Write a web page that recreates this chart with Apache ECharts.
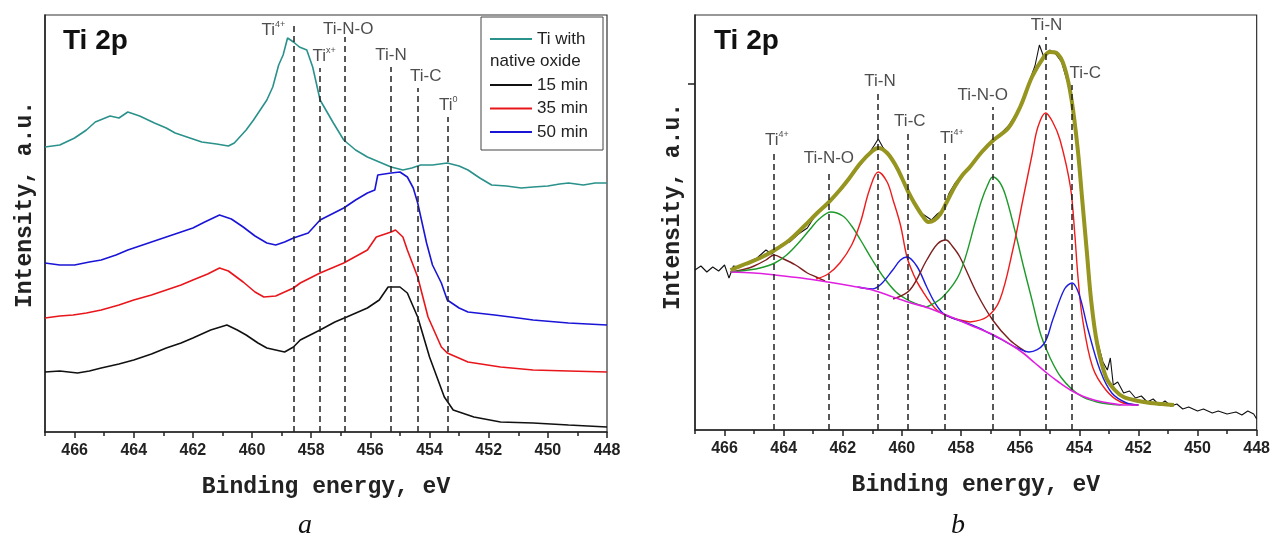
<!DOCTYPE html>
<html><head><meta charset="utf-8">
<script src="https://cdn.jsdelivr.net/npm/echarts@6/dist/echarts.min.js"></script>
<style>html,body{margin:0;padding:0;background:#fff}#c{width:1273px;height:540px}</style>
</head><body><div id="c"></div><script>
// ---------- Panel a : Ti 2p spectra (binding energy eV, intensity a.u.) ----------
const leftTealNative = [[467,285],[466.5,287],[466.0,294],[465.6,302],[465.3,310],[464.8,316],[464.5,314],[464.2,320],[463.8,316],[463.3,309],[462.9,304],[462.6,299],[462.1,294],[461.7,290],[461.2,288],[460.8,286],[460.6,289],[460.2,302],[459.95,312],[459.5,332],[459.3,345],[459.1,367],[458.95,377],[458.8,394],[458.6,390],[458.4,385],[458.15,382],[457.95,365],[457.7,332],[457.25,309],[456.9,292],[456.5,282],[456.1,275],[455.7,270],[455.3,265],[454.9,262],[454.6,264],[454.3,267],[453.9,267],[453.4,269],[453.0,266],[452.7,262],[452.3,254],[451.9,247],[451.4,246],[450.9,244],[450.5,245],[450.0,246],[449.6,248],[449.3,249],[448.8,247],[448.4,249],[448.0,249]];
const left15min = [[467,60],[466.5,61],[465.9,59],[465.5,61],[465.1,64],[464.5,68],[464.0,72],[463.4,78],[462.9,84],[462.4,89],[462.0,94],[461.4,102],[460.85,107],[460.5,102],[460.2,97],[459.8,89],[459.5,84],[458.9,80],[458.6,85],[458.37,92],[457.7,102],[457.2,110],[456.8,115],[456.1,124],[455.7,132],[455.4,145],[455.0,145],[454.75,139],[454.4,115],[454.0,75],[453.5,35],[453.2,22],[452.5,15],[451.6,10],[450.5,9],[449.3,7],[448.0,5]];
const left35min = [[467,114],[466.5,116],[466.05,117],[465.6,119],[465.1,122],[464.5,127],[464.0,132],[463.4,137],[462.9,142],[462.4,147],[462.0,152],[461.5,158],[461.1,164],[460.8,161],[460.3,150],[459.9,140],[459.6,135],[459.2,136],[458.9,140],[458.6,144],[458.37,149],[457.7,159],[456.9,169],[456.1,182],[455.8,195],[455.3,200],[455.15,202],[454.9,195],[454.75,182],[454.4,155],[454.05,115],[453.6,85],[453.4,79],[452.7,70],[451.6,65],[450.5,62],[449.3,61],[448.0,60]];
const left50min = [[467,169],[466.5,167],[466.0,167],[465.5,170],[465.1,172],[464.6,177],[464.2,182],[463.6,188],[462.9,195],[462.4,200],[462.0,204],[461.6,210],[461.1,217],[460.7,213],[460.3,205],[459.9,196],[459.5,189],[459.2,187],[458.9,190],[458.6,194],[458.1,199],[457.7,212],[457.3,218],[456.9,224],[456.5,232],[456.1,239],[455.85,242],[455.75,257],[455.3,259],[455.0,260],[454.75,255],[454.55,244],[454.4,229],[454.1,189],[453.9,167],[453.6,149],[453.4,132],[453.0,124],[452.7,120],[451.8,117],[451.0,114],[450.5,112],[449.3,109],[448.0,107]];
const leftRefNames = ['Ti^4+','Ti^x+','Ti-N-O','Ti-N','Ti-C','Ti^0'];
const leftRefEnergies = [458.6,457.7,456.85,455.3,454.4,453.4];
const leftRefTops = [410,364,395,365,344,315];

// ---------- Panel b : Ti 2p fit (binding energy eV, intensity a.u.) ----------
const rightMeasured = [[467.0,160],[466.8,164],[466.6,158],[466.4,163],[466.2,159],[466.0,165],[465.85,152],[465.7,164],[465.5,163],[465.2,168],[464.9,172],[464.6,180],[464.4,176],[464.1,185],[463.8,188],[463.5,196],[463.2,202],[462.9,216],[462.6,224],[462.3,234],[462.0,242],[461.7,254],[461.4,265],[461.15,275],[460.95,284],[460.8,291],[460.65,283],[460.45,275],[460.2,262],[460.0,252],[459.8,238],[459.6,226],[459.4,218],[459.2,214],[459.0,210],[458.8,216],[458.6,220],[458.4,237],[458.2,247],[458.0,254],[457.7,264],[457.4,274],[457.1,283],[456.9,290],[456.6,298],[456.4,304],[456.1,318],[455.9,330],[455.7,348],[455.5,364],[455.35,385],[455.2,373],[455.0,380],[454.8,376],[454.6,368],[454.4,348],[454.2,320],[454.0,265],[453.8,195],[453.6,130],[453.4,90],[453.2,68],[453.05,60],[452.95,72],[452.85,45],[452.7,48],[452.5,37],[452.3,39],[452.1,32],[451.9,34],[451.7,28],[451.5,31],[451.3,25],[451.1,29],[450.9,24],[450.7,26],[450.5,21],[450.3,23],[450.0,19],[449.8,21],[449.5,17],[449.3,19],[449.0,16],[448.7,18],[448.5,15],[448.3,19],[448.1,16],[448.0,11]];
const rightEnvelope = [[465.8,160],[465.3,166],[464.8,172],[464.3,180],[463.8,190],[463.3,204],[462.9,216],[462.5,227],[462.1,240],[461.8,251],[461.4,267],[461.0,279],[460.8,282],[460.5,277],[460.2,264],[460.0,252],[459.8,239],[459.6,228],[459.3,214],[459.1,208],[458.9,210],[458.7,216],[458.5,227],[458.2,244],[457.95,255],[457.7,263],[457.3,278],[456.9,290],[456.4,302],[456.0,323],[455.6,353],[455.2,373],[455.0,378],[454.77,377],[454.5,363],[454.26,330],[454.05,280],[453.9,230],[453.75,180],[453.6,130],[453.4,87],[453.1,53],[452.8,40],[452.5,33],[452.0,29],[451.6,27],[451.2,26],[450.8,25]];
const rightBackground = [[465.8,158],[465.0,157],[464.3,155],[463.4,152],[462.5,148],[461.7,144],[461.0,140],[460.4,134],[459.8,128],[459.1,122],[458.5,115],[457.7,105],[456.9,95],[456.3,85],[455.9,77],[455.5,67],[455.1,57],[454.7,48],[454.3,40],[453.9,34],[453.5,30],[453.0,27],[452.5,25],[452.0,25]];
const rightTi4a = [[465.8,158],[465.3,161],[465.0,164],[464.6,170],[464.33,175],[464.0,171],[463.6,165],[463.2,157],[462.9,153],[462.6,149]];
const rightTiNOa = [[465.8,158],[465.2,160],[464.8,162],[464.3,167],[463.9,175],[463.5,187],[463.1,201],[462.8,211],[462.4,218],[462.0,214],[461.7,204],[461.4,190],[461.0,170],[460.6,152],[460.2,138],[459.8,130],[459.4,125],[459.16,123]];
const rightTiNa = [[462.9,151],[462.5,156],[462.1,167],[461.7,185],[461.4,208],[461.1,240],[460.8,258],[460.5,248],[460.3,230],[460.05,205],[459.83,173],[459.6,155],[459.39,143],[458.82,120],[458.28,112],[457.7,108]];
const rightTiCa = [[461.5,143],[461.0,141],[460.7,146],[460.31,160],[460.05,170],[459.83,173],[459.5,164],[459.16,143],[458.9,128],[458.62,117],[458.3,112],[457.9,108],[457.4,102],[457.0,96],[456.6,90]];
const rightTi4b = [[460.3,131],[459.73,140],[459.16,170],[458.8,186],[458.51,190],[458.3,184],[458.04,173],[457.47,137],[456.93,110],[456.35,90],[455.8,78]];
const rightTiNOb = [[459.16,123],[458.62,133],[458.04,157],[457.5,210],[457.3,230],[457.1,245],[456.93,253],[456.7,248],[456.5,235],[456.2,202],[455.9,165],[455.6,130],[455.3,95],[455.0,73],[454.6,52],[454.0,35],[453.4,28],[452.6,25]];
const rightTiNb = [[457.7,108],[457.13,113],[456.69,130],[456.25,180],[455.91,230],[455.6,275],[455.4,303],[455.14,317],[454.9,308],[454.65,290],[454.3,243],[454.15,195],[454.05,155],[453.9,113],[453.55,63],[453.1,40],[452.6,28],[452.0,25]];
const rightTiCb = [[456.6,90],[456.1,82],[455.7,78],[455.2,86],[454.9,110],[454.5,141],[454.24,147],[454.0,135],[453.7,100],[453.3,60],[452.9,37],[452.4,27],[452.0,25]];
const rightRefNames = ['Ti^4+','Ti-N-O','Ti-N','Ti-C','Ti^4+','Ti-N-O','Ti-N','Ti-C'];
const rightRefEnergies = [464.33,462.47,460.81,459.8,458.55,456.93,455.14,454.24];
const rightRefTops = [278,260,337,297,280,323,393,345];

// x-axis tick values
const majorTicks = [448,450,452,454,456,458,460,462,464,466];
const minorTicks = [449,451,453,455,457,459,461,463,465,467];

// ---------- styling (not data) ----------
const SANS = "'Liberation Sans', Arial, sans-serif";
const MONO = "'Liberation Mono', 'Courier New', monospace";
const leftLabelShift = [[-20,20],[4,0],[3,4],[0,0],[8,0],[1,0]];
const rightLabelShift = [[3,0],[0,0],[2,0],[2,0],[7,0],[-10,0],[1,0],[13,0]];

function richName(n){
  const p = n.split('^');
  return p.length > 1 ? '{b|' + p[0] + '}{s|' + p[1] + '}' : '{b|' + n + '}';
}
const richStyle = {
  b: {fontSize: 17, fontFamily: SANS, color: '#222', lineHeight: 20},
  s: {fontSize: 9, fontFamily: SANS, color: '#222', verticalAlign: 'top', lineHeight: 9}
};
function refMarkLine(energies, tops){
  return {
    silent: true, symbol: ['none','none'],
    lineStyle: {type: [6,4], color: '#222', width: 1.5},
    label: {show: false},
    data: energies.map((e,i) => [{coord: [e, 0]}, {coord: [e, tops[i]]}])
  };
}
function refLabels(names, energies, tops, shifts, xi, yi){
  return {
    type: 'scatter', xAxisIndex: xi, yAxisIndex: yi, symbolSize: 1, silent: true,
    itemStyle: {color: 'rgba(0,0,0,0)'},
    label: {show: true, position: 'top', distance: 1, rich: richStyle,
      formatter: p => richName(names[p.dataIndex])},
    data: energies.map((e,i) => ({value: [e, tops[i]], label: {offset: shifts[i]}}))
  };
}
function xAxes(gi){
  const common = {type: 'value', gridIndex: gi, min: 448, max: 467, inverse: true,
    splitLine: {show: false}, position: 'bottom'};
  return [
    Object.assign({}, common, {
      axisLine: {show: true, lineStyle: {color: '#222', width: 1.5}},
      axisTick: {show: true, customValues: majorTicks, length: 6, lineStyle: {color: '#222', width: 1.5}},
      axisLabel: {customValues: majorTicks, margin: 11, fontFamily: SANS, fontWeight: 'bold', fontSize: 16, color: '#222'},
      name: 'Binding energy, eV', nameLocation: 'middle', nameGap: 44,
      nameTextStyle: {fontFamily: MONO, fontWeight: 'bold', fontSize: 23, color: '#222'}
    }),
    Object.assign({}, common, {
      axisLine: {show: false},
      axisTick: {show: true, customValues: minorTicks, length: 4, lineStyle: {color: '#222', width: 1.5}},
      axisLabel: {show: false}
    })
  ];
}
function lineSeries(name, data, color, width, xi, yi, smooth, z){
  return {type: 'line', name: name, data: data, xAxisIndex: xi, yAxisIndex: yi,
    showSymbol: false, symbol: 'none', smooth: smooth ? 0.35 : false,
    lineStyle: {color: color, width: width}, itemStyle: {color: color}, z: z || 2};
}

const chart = echarts.init(document.getElementById('c'), null, {renderer: 'canvas'});
const legendText = {fontFamily: SANS, fontSize: 17, color: '#222', lineHeight: 18};
chart.setOption({
  animation: false,
  backgroundColor: '#fff',
  title: [
    {text: 'Ti 2p', left: 63, top: 27, padding: 0, textStyle: {fontFamily: SANS, fontWeight: 'bold', fontSize: 28, color: '#111'}},
    {text: 'Ti 2p', left: 714, top: 27, padding: 0, textStyle: {fontFamily: SANS, fontWeight: 'bold', fontSize: 28, color: '#111'}},
    {text: 'a', left: 298, top: 512, padding: 0, textStyle: {fontFamily: "'Liberation Serif', 'Times New Roman', serif", fontStyle: 'italic', fontWeight: 'normal', fontSize: 28, color: '#111'}},
    {text: 'b', left: 951, top: 512, padding: 0, textStyle: {fontFamily: "'Liberation Serif', 'Times New Roman', serif", fontStyle: 'italic', fontWeight: 'normal', fontSize: 28, color: '#111'}}
  ],
  grid: [
    {left: 45, top: 15, width: 562, height: 417, show: true, borderColor: '#333', borderWidth: 1.2, backgroundColor: 'transparent'},
    {left: 695, top: 15, width: 562, height: 415, show: true, borderColor: '#333', borderWidth: 1.2, backgroundColor: 'transparent'}
  ],
  legend: [
    {data: [{name: 'Ti with native oxide', icon: 'rect'}], orient: 'vertical', left: 490, top: 30, padding: 0,
      itemWidth: 42, itemHeight: 2, itemGap: 0,
      formatter: () => 'Ti with', textStyle: legendText, selectedMode: false},
    {data: [{name: '15 min', icon: 'rect'}, {name: '35 min', icon: 'rect'}, {name: '50 min', icon: 'rect'}],
      orient: 'vertical', left: 490, top: 76, padding: 0, itemWidth: 42, itemHeight: 2, itemGap: 5.5,
      textStyle: legendText, selectedMode: false}
  ],
  graphic: [
    {type: 'rect', shape: {x: 481, y: 17, width: 122, height: 133}, style: {fill: 'none', stroke: '#444', lineWidth: 1}, z: 5},
    {type: 'text', left: 490, top: 53, style: {text: 'native oxide', font: "17px 'Liberation Sans', Arial, sans-serif", fill: '#222'}, z: 5}
  ],
  xAxis: xAxes(0).concat(xAxes(1)),
  yAxis: [
    {type: 'value', gridIndex: 0, min: 0, max: 417, splitLine: {show: false},
      axisLine: {show: true, lineStyle: {color: '#222', width: 1.5}}, axisTick: {show: false}, axisLabel: {show: false},
      name: 'Intensity, a.u.', nameLocation: 'middle', nameGap: 8,
      nameTextStyle: {fontFamily: MONO, fontWeight: 'bold', fontSize: 23, color: '#222', padding: [0,0,0,38]}},
    {type: 'value', gridIndex: 1, min: 0, max: 415, splitLine: {show: false},
      axisLine: {show: true, lineStyle: {color: '#222', width: 1.5}},
      axisTick: {show: true, customValues: [346], length: 7, lineStyle: {color: '#222', width: 1.5}}, axisLabel: {show: false},
      name: 'Intensity, a.u.', nameLocation: 'middle', nameGap: 10,
      nameTextStyle: {fontFamily: MONO, fontWeight: 'bold', fontSize: 23, color: '#222', padding: [0,0,0,32]}}
  ],
  series: [
    lineSeries('Ti with native oxide', leftTealNative, '#2a918b', 1.6, 0, 0),
    Object.assign(lineSeries('15 min', left15min, '#111111', 1.6, 0, 0), {markLine: refMarkLine(leftRefEnergies, leftRefTops)}),
    lineSeries('35 min', left35min, '#e8161b', 1.6, 0, 0),
    lineSeries('50 min', left50min, '#1a14d6', 1.6, 0, 0),
    refLabels(leftRefNames, leftRefEnergies, leftRefTops, leftLabelShift, 0, 0),

    Object.assign(lineSeries('Measured', rightMeasured, '#111111', 1.1, 2, 1, false, 2), {markLine: refMarkLine(rightRefEnergies, rightRefTops)}),
    lineSeries('Ti4+ (464.3)', rightTi4a, '#7d1f1f', 1.4, 2, 1, true, 3),
    lineSeries('Ti-N-O (462.5)', rightTiNOa, '#1e9a2a', 1.4, 2, 1, true, 3),
    lineSeries('Ti-N (460.8)', rightTiNa, '#ee1c1c', 1.4, 2, 1, true, 3),
    lineSeries('Ti-C (459.8)', rightTiCa, '#1c1ce0', 1.4, 2, 1, true, 3),
    lineSeries('Ti4+ (458.6)', rightTi4b, '#7d1f1f', 1.4, 2, 1, true, 3),
    lineSeries('Ti-N-O (456.9)', rightTiNOb, '#1e9a2a', 1.4, 2, 1, true, 3),
    lineSeries('Ti-N (455.1)', rightTiNb, '#ee1c1c', 1.4, 2, 1, true, 3),
    lineSeries('Ti-C (454.2)', rightTiCb, '#1c1ce0', 1.4, 2, 1, true, 3),
    lineSeries('Background', rightBackground, '#e020e0', 1.6, 2, 1, true, 3),
    lineSeries('Envelope', rightEnvelope, '#959520', 4, 2, 1, true, 4),
    refLabels(rightRefNames, rightRefEnergies, rightRefTops, rightLabelShift, 2, 1)
  ]
});
</script></body></html>
